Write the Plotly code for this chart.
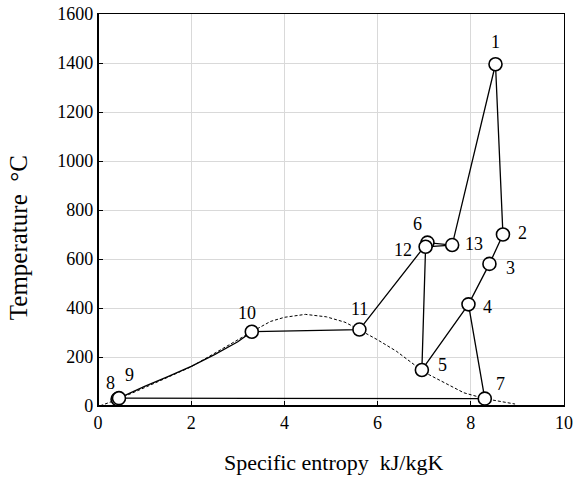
import plotly.graph_objects as go

# ---- data ----
state_labels = ["1", "2", "3", "4", "5", "6", "7", "8", "9", "10", "11", "12", "13"]
state_s = [8.53, 8.69, 8.40, 7.95, 6.95, 7.07, 8.30, 0.42, 0.45, 3.30, 5.61, 7.03, 7.60]
state_T = [1395, 700, 580, 415, 147, 667, 30, 28, 32, 303, 312, 650, 657]

# heating curve between states 9 and 10
heat_s = [0.45, 1.0, 1.5, 2.0, 2.5, 3.0, 3.30]
heat_T = [32, 80, 120, 162, 210, 262, 303]

# cycle path order (after the heating curve)
path_a = ["10", "11", "6", "13", "1", "2", "3", "4", "5", "12", "13"]
path_b = ["4", "7", "9"]

# saturation dome (dashed)
dome_s = [0.05, 0.42, 1.0, 2.0, 3.3, 3.7, 4.0, 4.45, 4.9, 5.3, 5.6, 6.0, 6.4, 7.0, 7.85, 8.3, 8.95]
dome_T = [1, 27, 75, 160, 303, 345, 362, 374, 364, 342, 312, 270, 224, 138, 54, 30, 8]

x_ticks = [0, 2, 4, 6, 8, 10]
y_ticks = [0, 200, 400, 600, 800, 1000, 1200, 1400, 1600]

# label offsets in pixels (dx, dy) relative to each state point
label_offsets = {
    "1": (0, -22), "2": (20, -2), "3": (21, 4), "4": (19, 3), "5": (21, -5),
    "6": (-10, -19), "7": (16, -15), "8": (-7, -16), "9": (11, -23),
    "10": (-5, -19), "11": (0, -21), "12": (-23, 3), "13": (22, -1),
}

idx = {lab: i for i, lab in enumerate(state_labels)}
FONT = "Liberation Serif"

fig = go.Figure()

fig.add_trace(go.Scatter(x=dome_s, y=dome_T, mode="lines",
                         line=dict(color="black", width=1, dash="3px,2px"),
                         hoverinfo="skip", showlegend=False))

pa_s = heat_s + [state_s[idx[k]] for k in path_a]
pa_T = heat_T + [state_T[idx[k]] for k in path_a]
fig.add_trace(go.Scatter(x=pa_s, y=pa_T, mode="lines",
                         line=dict(color="black", width=1.3), showlegend=False))
fig.add_trace(go.Scatter(x=[state_s[idx[k]] for k in path_b],
                         y=[state_T[idx[k]] for k in path_b], mode="lines",
                         line=dict(color="black", width=1.3), showlegend=False))

fig.add_trace(go.Scatter(x=state_s, y=state_T, mode="markers",
                         marker=dict(size=13, color="white",
                                     line=dict(color="black", width=1.6)),
                         showlegend=False))

for lab, s, T in zip(state_labels, state_s, state_T):
    dx, dy = label_offsets[lab]
    fig.add_annotation(x=s, y=T, text=lab, showarrow=False,
                       xshift=dx, yshift=-dy,
                       font=dict(family=FONT, size=18, color="black"))

fig.add_annotation(xref="paper", yref="paper", x=0.505, y=-0.145,
                   text="Specific entropy  kJ/kgK", showarrow=False,
                   xanchor="center", yanchor="middle",
                   font=dict(family=FONT, size=22, color="black"))
fig.add_annotation(xref="paper", yref="paper", x=-0.17, y=0.43,
                   text="Temperature  \u00b0C", showarrow=False, textangle=-90,
                   xanchor="center", yanchor="middle",
                   font=dict(family=FONT, size=25, color="black"))

# heavier left and bottom axis lines
fig.add_shape(type="line", xref="paper", yref="paper", x0=0, x1=0, y0=0, y1=1,
              line=dict(color="black", width=2))
fig.add_shape(type="line", xref="paper", yref="paper", x0=0, x1=1, y0=0, y1=0,
              line=dict(color="black", width=2))

axis_common = dict(showgrid=True, gridcolor="#d9d9d9", gridwidth=1,
                   showline=True, linecolor="black", linewidth=1.2, mirror=True,
                   ticks="inside", ticklen=5, tickcolor="black", tickwidth=1,
                   zeroline=False, automargin=False,
                   tickfont=dict(family=FONT, size=18, color="black"))

fig.update_xaxes(range=[0, 10], tickvals=x_ticks, **axis_common)
fig.update_yaxes(range=[0, 1600], tickvals=y_ticks, **axis_common)

fig.update_layout(width=574, height=479,
                  margin=dict(l=98, r=10, t=14, b=73, autoexpand=False),
                  font=dict(family=FONT, size=18, color="black"),
                  paper_bgcolor="white", plot_bgcolor="white",
                  showlegend=False)

fig.write_html("out.html")
